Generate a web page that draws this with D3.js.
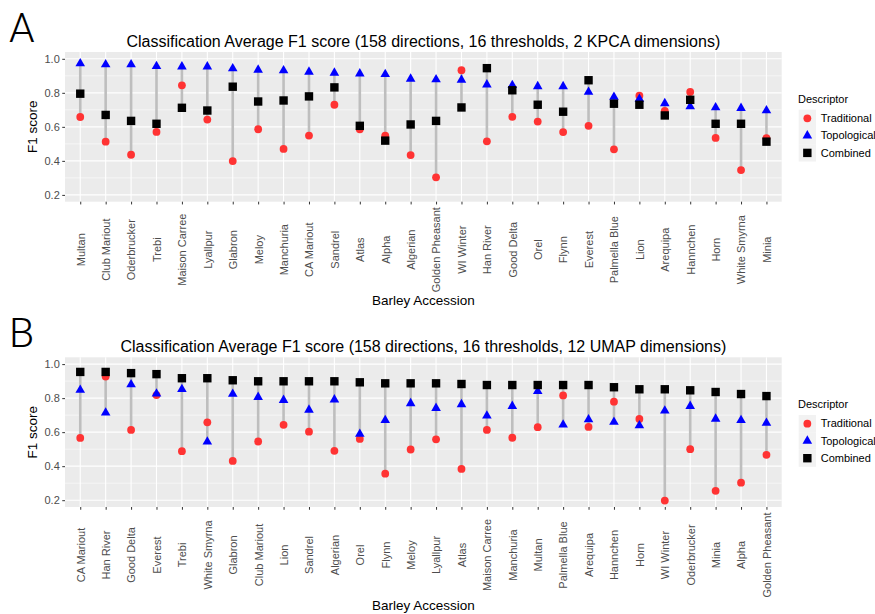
<!DOCTYPE html>
<html>
<head>
<meta charset="utf-8">
<script src="https://cdn.jsdelivr.net/npm/d3@7"></script>
<style>
  body { margin: 0; background: #fff; }
  svg { display: block; font-family: "Liberation Sans", Arial, sans-serif; }
</style>
</head>
<body>
<svg id="chart" width="875" height="614"></svg>
<script>
// ---------- Data ----------
const categoriesA = ["Multan","Club Mariout","Oderbrucker","Trebi","Maison Carree","Lyallpur","Glabron","Meloy","Manchuria","CA Mariout","Sandrel","Atlas","Alpha","Algerian","Golden Pheasant","WI Winter","Han River","Good Delta","Orel","Flynn","Everest","Palmella Blue","Lion","Arequipa","Hannchen","Horn","White Smyrna","Minia"];
const traditionalA = [0.658,0.513,0.436,0.570,0.844,0.643,0.399,0.586,0.470,0.549,0.730,0.586,0.549,0.434,0.303,0.933,0.515,0.659,0.631,0.569,0.606,0.468,0.783,0.694,0.805,0.535,0.346,0.533];
const topologicalA = [0.972,0.966,0.966,0.956,0.954,0.954,0.943,0.935,0.931,0.923,0.917,0.913,0.909,0.882,0.878,0.876,0.848,0.844,0.838,0.838,0.805,0.775,0.764,0.738,0.720,0.714,0.710,0.696];
const combinedA = [0.795,0.670,0.635,0.618,0.712,0.696,0.836,0.749,0.755,0.779,0.832,0.606,0.519,0.614,0.635,0.714,0.945,0.815,0.730,0.689,0.874,0.736,0.730,0.667,0.759,0.618,0.618,0.513];

const categoriesB = ["CA Mariout","Han River","Good Delta","Everest","Trebi","White Smyrna","Glabron","Club Mariout","Lion","Sandrel","Algerian","Orel","Flynn","Meloy","Lyallpur","Atlas","Maison Carree","Manchuria","Multan","Palmella Blue","Arequipa","Hannchen","Horn","WI Winter","Oderbrucker","Minia","Alpha","Golden Pheasant"];
const traditionalB = [0.566,0.927,0.613,0.818,0.488,0.658,0.431,0.545,0.643,0.603,0.490,0.560,0.356,0.498,0.558,0.384,0.613,0.567,0.629,0.816,0.631,0.779,0.678,0.198,0.500,0.255,0.303,0.467];
const topologicalB = [0.848,0.714,0.880,0.826,0.852,0.544,0.824,0.806,0.788,0.731,0.791,0.589,0.670,0.769,0.741,0.763,0.696,0.753,0.840,0.643,0.674,0.660,0.639,0.726,0.753,0.678,0.670,0.654];
const combinedB = [0.954,0.954,0.947,0.941,0.917,0.917,0.905,0.899,0.899,0.899,0.899,0.893,0.887,0.887,0.887,0.883,0.877,0.877,0.877,0.877,0.877,0.864,0.852,0.852,0.846,0.836,0.824,0.812];

const yTicks = [0.2, 0.4, 0.6, 0.8, 1.0];
const yMinor = [0.3, 0.5, 0.7, 0.9];
const seriesNames = ["Traditional", "Topological", "Combined"];
const titleA = "Classification Average F1 score (158 directions, 16 thresholds, 2 KPCA dimensions)";
const titleB = "Classification Average F1 score (158 directions, 16 thresholds, 12 UMAP dimensions)";

// ---------- Drawing ----------
const svg = d3.select("#chart");
const colors = { Traditional: "#ff3333", Topological: "#0000ff", Combined: "#000000" };

function drawSymbol(g, name, x, y) {
  if (name === "Traditional") {
    g.append("circle").attr("cx", x).attr("cy", y).attr("r", 3.9).attr("fill", colors[name]);
  } else if (name === "Topological") {
    g.append("path").attr("transform", `translate(${x},${y})`)
      .attr("d", d3.symbol().type(d3.symbolTriangle).size(40)())
      .attr("fill", colors[name]);
  } else {
    g.append("rect").attr("x", x - 4.2).attr("y", y - 4.2).attr("width", 8.4).attr("height", 8.4).attr("fill", colors[name]);
  }
}

function panel(offY, letter, title, cats, trad, topo, comb) {
  const left = 65, right = 781.7, top = offY + 52, bottom = offY + 201.7;
  const g = svg.append("g");

  const x = d3.scalePoint().domain(cats).range([left, right]).padding(0.6);
  const y = d3.scaleLinear().domain([0.16, 1.04]).range([bottom, top]);

  // letter
  g.append("text").attr("x", 9).attr("y", offY + 41.5).attr("font-size", 41)
    .attr("font-family", "Roboto, 'Liberation Sans', sans-serif").attr("font-weight", 300)
    .attr("fill", "#000").text(letter);

  // title
  g.append("text").attr("x", (left + right) / 2).attr("y", offY + 46.5)
    .attr("text-anchor", "middle").attr("font-size", 16).attr("fill", "#000").text(title);

  // panel background
  g.append("rect").attr("x", left).attr("y", top).attr("width", right - left).attr("height", bottom - top).attr("fill", "#ebebeb");

  // grid
  g.selectAll(".minor").data(yMinor).join("line")
    .attr("x1", left).attr("x2", right).attr("y1", d => y(d)).attr("y2", d => y(d))
    .attr("stroke", "#fff").attr("stroke-width", 0.55);
  g.selectAll(".major").data(yTicks).join("line")
    .attr("x1", left).attr("x2", right).attr("y1", d => y(d)).attr("y2", d => y(d))
    .attr("stroke", "#fff").attr("stroke-width", 1.1);
  g.selectAll(".vgrid").data(cats).join("line")
    .attr("x1", d => x(d)).attr("x2", d => x(d)).attr("y1", top).attr("y2", bottom)
    .attr("stroke", "#fff").attr("stroke-width", 1.1);

  // y axis
  const yAxis = d3.axisLeft(y).tickValues(yTicks).tickFormat(d3.format(".1f")).tickSize(2.75).tickPadding(2.5);
  const ya = g.append("g").attr("transform", `translate(${left},0)`).call(yAxis);
  ya.select(".domain").remove();
  ya.selectAll("line").attr("stroke", "#333").attr("stroke-width", 1);
  ya.selectAll("text").attr("fill", "#4d4d4d").attr("font-size", 11).attr("font-family", "'Liberation Sans', Arial, sans-serif");

  // x axis
  const xAxis = d3.axisBottom(x).tickSize(2.75).tickPadding(0);
  const xa = g.append("g").attr("transform", `translate(0,${bottom})`).call(xAxis);
  xa.select(".domain").remove();
  xa.selectAll("line").attr("stroke", "#333").attr("stroke-width", 1);
  xa.selectAll("text")
    .attr("fill", "#4d4d4d").attr("font-size", 11).attr("font-family", "'Liberation Sans', Arial, sans-serif")
    .attr("text-anchor", "middle")
    .attr("transform", "translate(0,48) rotate(-90)")
    .attr("x", 0).attr("y", 0).attr("dy", "0.35em");

  // axis titles
  g.append("text").attr("x", (left + right) / 2).attr("y", offY + 305)
    .attr("text-anchor", "middle").attr("font-size", 13.5).attr("fill", "#000").text("Barley Accession");
  g.append("text").attr("transform", `translate(37,${(top + bottom) / 2}) rotate(-90)`)
    .attr("text-anchor", "middle").attr("font-size", 13.5).attr("fill", "#000").text("F1 score");

  // segments
  cats.forEach((c, i) => {
    const vals = [trad[i], topo[i], comb[i]];
    g.append("line").attr("x1", x(c)).attr("x2", x(c))
      .attr("y1", y(d3.min(vals))).attr("y2", y(d3.max(vals)))
      .attr("stroke", "#bebebe").attr("stroke-width", 2.6);
  });
  // points
  const series = { Traditional: trad, Topological: topo, Combined: comb };
  seriesNames.forEach(s => {
    cats.forEach((c, i) => drawSymbol(g, s, x(c), y(series[s][i])));
  });

  // legend
  const lx = 798, ly = offY + 103;
  g.append("text").attr("x", lx).attr("y", ly).attr("font-size", 11).attr("fill", "#000").text("Descriptor");
  seriesNames.forEach((s, i) => {
    const ky = offY + 109.7 + i * 17.28;
    g.append("rect").attr("x", lx + 0.7).attr("y", ky).attr("width", 17.28).attr("height", 17.28).attr("fill", "#f2f2f2");
    drawSymbol(g, s, lx + 0.7 + 8.64, ky + 8.64);
    g.append("text").attr("x", lx + 22.7).attr("y", ky + 8.64).attr("dy", "0.35em")
      .attr("font-size", 11).attr("fill", "#000").text(s);
  });
}

panel(0, "A", titleA, categoriesA, traditionalA, topologicalA, combinedA);
panel(305.3, "B", titleB, categoriesB, traditionalB, topologicalB, combinedB);
</script>
</body>
</html>
